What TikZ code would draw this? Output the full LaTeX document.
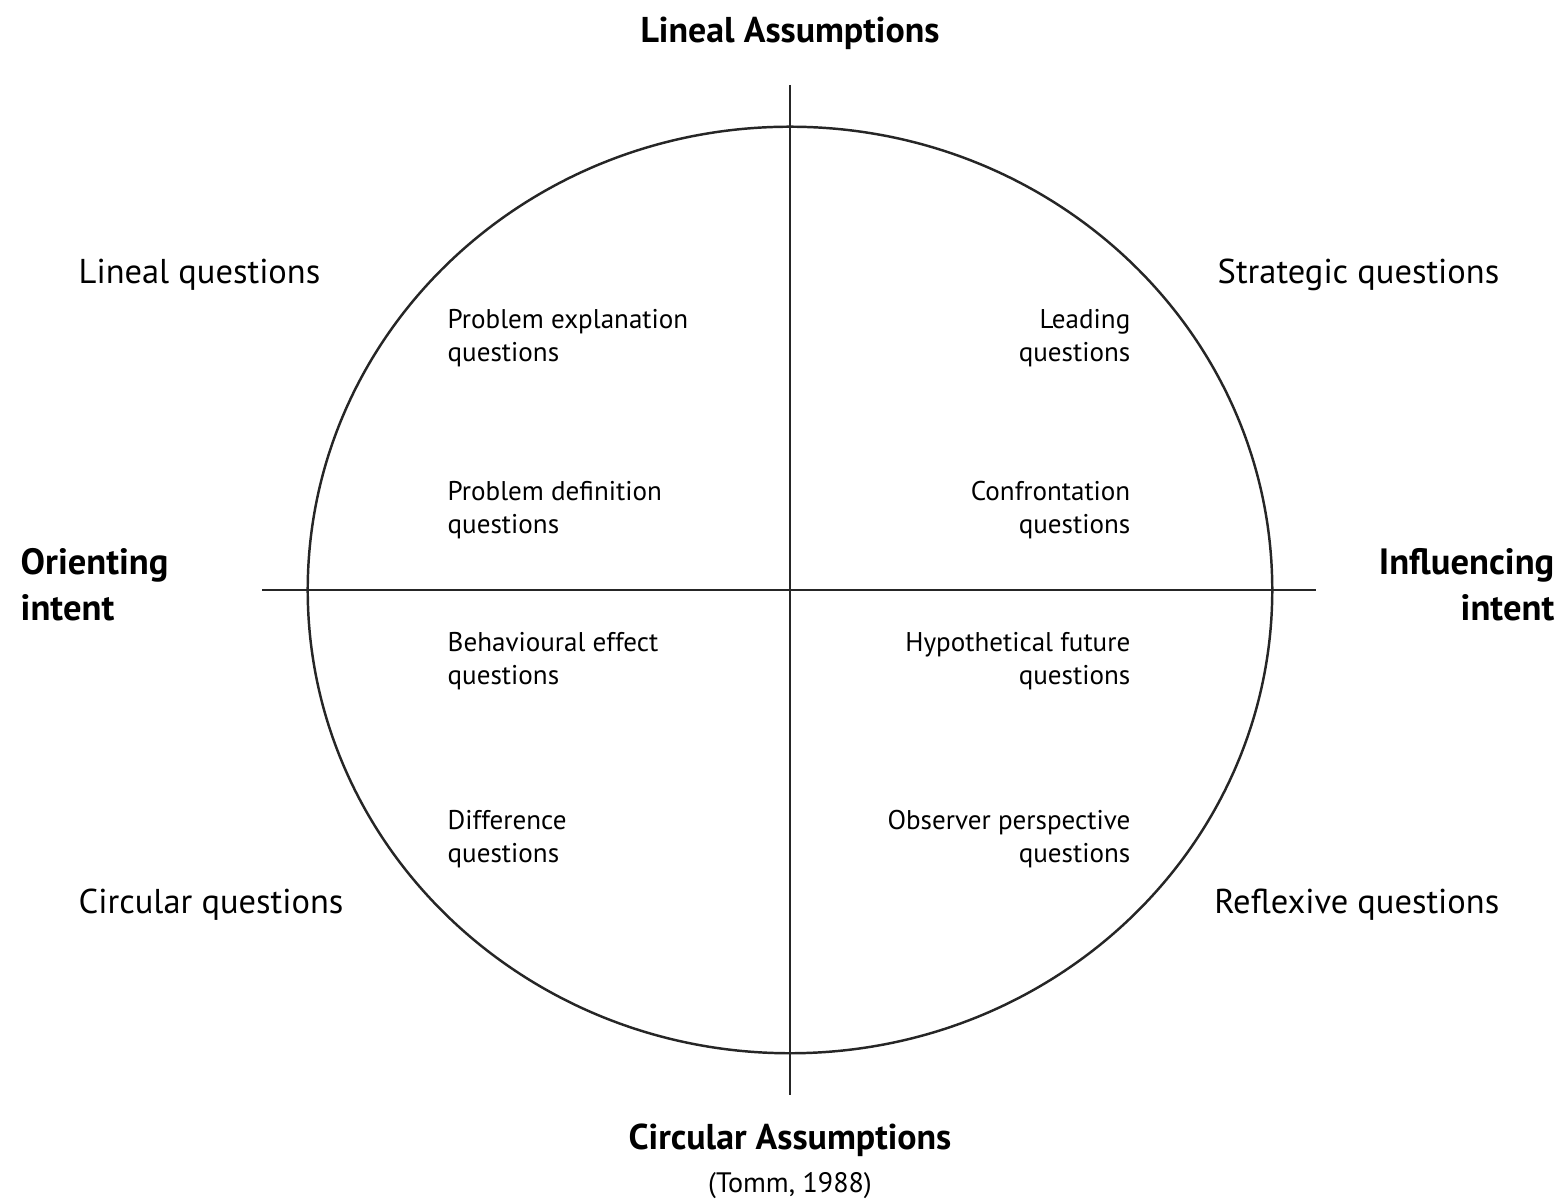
\documentclass[tikz,border=0pt]{standalone}
\usepackage{fontspec}
\setmainfont{PT Sans}
\usetikzlibrary{positioning,shapes.geometric}

\begin{document}
\begin{tikzpicture}[x=0.01cm,y=-0.01cm,
    axis/.style={line width=0.7pt,draw=black!85},
    head/.style={font=\fontsize{10.2}{12}\selectfont\bfseries,inner sep=0pt},
    quad/.style={font=\fontsize{9.8}{11}\selectfont,inner sep=0pt},
    inner/.style={font=\fontsize{7.7}{9.4}\selectfont,inner sep=0pt}]
  \useasboundingbox (0,0) rectangle (1565,1204);
  % circle and axes
  \node[draw=black!85,line width=0.7pt,ellipse,minimum width=9.64cm,minimum height=9.26cm,inner sep=0pt] (ring) at (790,590) {};
  \coordinate (top) at (790,85);
  \coordinate (bot) at (790,1095);
  \coordinate (lft) at (262,590);
  \coordinate (rgt) at (1316,590);
  \draw[axis] (top) -- (bot);
  \draw[axis] (lft) -- (rgt);
  % axis labels
  \node[head] (lineal) at (790,33) {Lineal Assumptions};
  \node[head] (circular) at (790,1140) {Circular Assumptions};
  \node[inner,font=\fontsize{8}{9}\selectfont] (tomm) at (790,1186) {(Tomm, 1988)};
  \node[head,anchor=west,align=left,font=\fontsize{10.4}{13}\selectfont\bfseries] (orient) at (20,585) {Orienting\\intent};
  \node[head,anchor=east,align=right,font=\fontsize{10.4}{13}\selectfont\bfseries] (influ) at (1555,585) {Influencing\\intent};
  % quadrant labels
  \node[quad,anchor=west] (lq) at (78,275) {Lineal questions};
  \node[quad,anchor=east] (sq) at (1500,275) {Strategic questions};
  \node[quad,anchor=west] (cq) at (78,905) {Circular questions};
  \node[quad,anchor=east] (rq) at (1500,905) {Reflexive questions};
  % inner labels, left
  \node[inner,anchor=west,align=left] (expl) at (447,338) {Problem explanation\\questions};
  \node[inner,anchor=west,align=left] (defn) at (447,510) {Problem definition\\questions};
  \node[inner,anchor=west,align=left] (behav) at (447,661) {Behavioural effect\\questions};
  \node[inner,anchor=west,align=left] (diff) at (447,839) {Difference\\questions};
  % inner labels, right
  \node[inner,anchor=east,align=right] (lead) at (1131,338) {Leading\\questions};
  \node[inner,anchor=east,align=right] (conf) at (1131,510) {Confrontation\\questions};
  \node[inner,anchor=east,align=right] (hypo) at (1131,661) {Hypothetical future\\questions};
  \node[inner,anchor=east,align=right] (obs) at (1131,839) {Observer perspective\\questions};
\end{tikzpicture}
\end{document}
